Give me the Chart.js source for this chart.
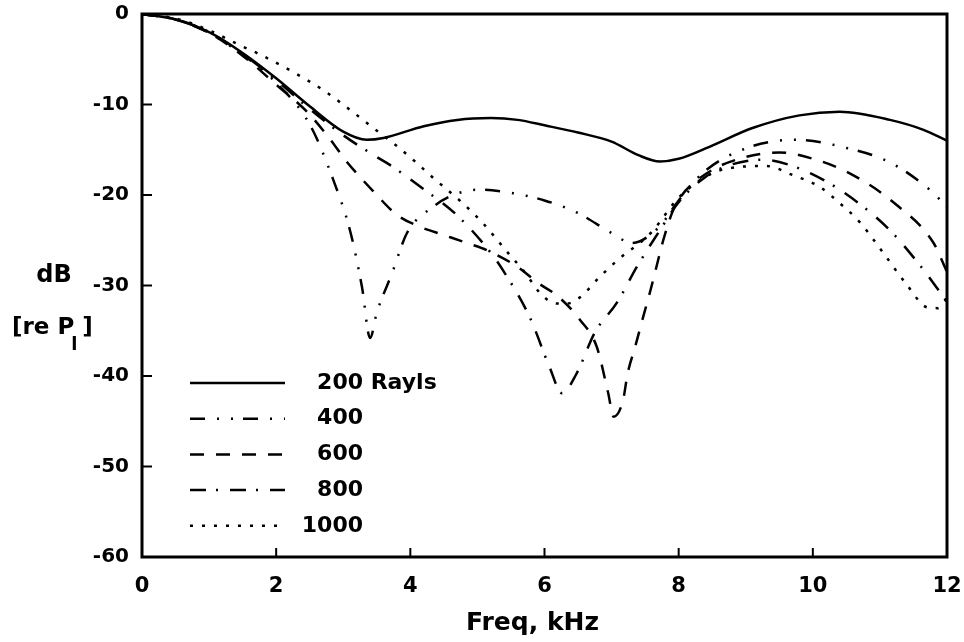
<!DOCTYPE html>
<html><head><meta charset="utf-8">
<script src="https://cdn.jsdelivr.net/npm/chart.js@4/dist/chart.umd.min.js"></script>
<style>html,body{margin:0;padding:0;background:#fff}#wrap{width:964px;height:642px}</style>
</head><body><div id="wrap"><canvas id="c" width="964" height="642"></canvas></div>
<script>
// ---- data ----
const xTicks = [0, 2, 4, 6, 8, 10, 12];
const yTicks = [0, -10, -20, -30, -40, -50, -60];
const legendNumbers = ['200', '400', '600', '800', '1000'];
const legendUnit = 'Rayls';
const xTitle = 'Freq, kHz';
const yTitle1 = 'dB';
const yTitle2 = '[re P';
const yTitleSub = 'l';

const f200 = [0,0.5,1,1.5,2,2.5,3,3.35,3.6,4.2,4.7,5.2,5.6,6.0,6.5,7.0,7.4,7.72,8.0,8.45,9.1,9.8,10.4,11.15,11.65,12];
const db200 = [0,-0.6,-2.0,-4.3,-7.1,-10.2,-13.0,-13.9,-13.7,-12.4,-11.7,-11.5,-11.7,-12.3,-13.1,-14.1,-15.6,-16.3,-16.0,-14.7,-12.6,-11.2,-10.8,-11.7,-12.8,-14.0];

const f400 = [0,0.5,1,1.5,2,2.5,2.85,3.1,3.28,3.4,3.5,3.73,3.95,4.34,4.64,5.04,5.53,6.0,6.5,7.0,7.3,7.7,8.0,8.4,9.1,9.76,10.5,11.15,11.74,12];
const db400 = [0,-0.6,-2.1,-4.5,-7.6,-12.2,-18.3,-23.9,-30.2,-35.8,-33.0,-28.6,-24.2,-21.3,-20.0,-19.4,-19.8,-20.6,-22.0,-24.2,-25.3,-23.6,-20.6,-17.3,-14.6,-13.9,-14.8,-16.4,-19.4,-21.3];

const f600 = [0,0.5,1,1.5,2,2.46,2.8,3.05,3.45,3.8,4.14,4.49,4.84,5.14,5.59,5.9,6.2,6.53,6.78,6.95,7.03,7.17,7.24,7.35,7.47,7.57,7.67,7.77,7.9,8.0,8.42,9.0,9.5,10.0,10.55,11.25,11.8,12];
const db600 = [0,-0.6,-2.1,-4.6,-7.8,-10.8,-13.8,-16.3,-19.6,-22.2,-23.5,-24.4,-25.3,-26.1,-27.9,-29.7,-31.2,-33.8,-36.8,-41.9,-44.5,-42.7,-39.7,-36.8,-33.5,-30.8,-27.9,-25.0,-22.0,-20.5,-17.6,-15.8,-15.3,-16.0,-17.6,-21.1,-25.3,-28.5];

const f800 = [0,0.5,1,1.5,2,2.5,3,3.5,3.7,4.19,4.69,5.19,5.38,5.78,6.08,6.26,6.48,6.75,7.08,7.38,7.72,8.0,8.4,8.8,9.25,9.7,10.2,10.7,11.15,11.6,12];
const db800 = [0,-0.6,-2.0,-4.4,-7.3,-10.5,-13.4,-15.8,-16.7,-19.3,-22.2,-26.3,-28.3,-33.5,-39.1,-41.9,-39.7,-35.2,-31.9,-27.9,-23.9,-20.8,-18.0,-16.6,-16.1,-16.8,-18.5,-21.0,-23.9,-27.8,-31.8];

const f1000 = [0,0.5,1,1.5,1.71,2.25,2.7,3.05,3.45,3.75,4.04,4.34,4.78,5.08,5.48,5.68,5.98,6.2,6.33,6.53,6.83,7.12,7.47,7.62,8.0,8.5,8.9,9.3,9.7,10.1,10.4,10.7,11.04,11.4,11.7,11.86,12];
const db1000 = [0,-0.5,-1.8,-3.6,-4.3,-6.4,-8.4,-10.3,-12.6,-14.3,-16.1,-18.1,-20.9,-23.1,-26.6,-28.3,-31.2,-32.0,-32.0,-31.3,-29.0,-27.0,-25.0,-23.9,-20.3,-17.6,-16.9,-16.8,-17.8,-19.1,-20.9,-23.0,-26.3,-29.9,-32.4,-32.5,-31.5];

// ---- build ----
const pts = (fs, ds) => fs.map((f, i) => ({ x: f, y: ds[i] }));
const dashes = [[], [15, 12, 2, 12, 2, 10], [14, 12], [16, 10, 2, 12], [3, 9]];
const series = [[f200, db200], [f400, db400], [f600, db600], [f800, db800], [f1000, db1000]];
const FONT = 'DejaVu Sans';

const datasets = series.map((s, i) => ({
  label: legendNumbers[i],
  data: pts(s[0], s[1]),
  borderColor: '#000',
  borderWidth: 2.5,
  borderDash: dashes[i],
  pointRadius: 0,
  fill: false,
  cubicInterpolationMode: 'monotone'
}));

const decor = {
  id: 'decor',
  afterDraw(chart) {
    const ctx = chart.ctx;
    const a = chart.chartArea;
    const xs = chart.scales.x, ys = chart.scales.y;
    ctx.save();
    ctx.strokeStyle = '#000';
    ctx.lineWidth = 3;
    ctx.setLineDash([]);
    ctx.strokeRect(a.left, a.top, a.right - a.left, a.bottom - a.top);
    ctx.lineWidth = 2;
    xTicks.forEach(v => {
      if (v === xTicks[0] || v === xTicks[xTicks.length - 1]) return;
      const p = xs.getPixelForValue(v);
      ctx.beginPath(); ctx.moveTo(p, a.bottom); ctx.lineTo(p, a.bottom - 9); ctx.stroke();
    });
    yTicks.forEach(v => {
      if (v === yTicks[0] || v === yTicks[yTicks.length - 1]) return;
      const p = ys.getPixelForValue(v);
      ctx.beginPath(); ctx.moveTo(a.left, p); ctx.lineTo(a.left + 10, p); ctx.stroke();
    });
    // legend
    const lx0 = a.left + 48, lx1 = a.left + 143, tx = a.left + 221;
    const ly0 = a.top + 369, step = 35.7;
    chart.data.datasets.forEach((d, i) => {
      const y = ly0 + i * step;
      ctx.lineWidth = 2.5;
      ctx.setLineDash(d.borderDash || []);
      ctx.beginPath(); ctx.moveTo(lx0, y); ctx.lineTo(lx1, y); ctx.stroke();
      ctx.setLineDash([]);
      ctx.fillStyle = '#000';
      ctx.font = 'bold 22px "' + FONT + '"';
      ctx.textBaseline = 'middle';
      ctx.textAlign = 'right';
      ctx.fillText(d.label, tx, y);
      if (i === 0) { ctx.textAlign = 'left'; ctx.fillText(' ' + legendUnit, tx, y); }
    });
    // axis titles
    ctx.textBaseline = 'alphabetic';
    ctx.textAlign = 'center';
    ctx.font = 'bold 25px "' + FONT + '"';
    ctx.fillText(xTitle, (a.left + a.right) / 2 - 12, 630);
    ctx.font = 'bold 24px "' + FONT + '"';
    ctx.fillText(yTitle1, 54, 282);
    ctx.textAlign = 'left';
    ctx.font = 'bold 23px "' + FONT + '"';
    ctx.fillText(yTitle2, 12, 334);
    const w = ctx.measureText(yTitle2).width;
    ctx.font = 'bold 18px "' + FONT + '"';
    ctx.fillText(yTitleSub, 12 + w - 3, 350);
    ctx.font = 'bold 23px "' + FONT + '"';
    ctx.fillText(']', 12 + w + 8, 334);
    ctx.restore();
  }
};

new Chart(document.getElementById('c'), {
  type: 'line',
  data: { datasets },
  options: {
    responsive: false,
    animation: false,
    devicePixelRatio: 1,
    layout: { padding: { top: 14, right: 17, left: 0, bottom: 0 } },
    plugins: { legend: { display: false }, tooltip: { enabled: false }, title: { display: false } },
    scales: {
      x: {
        type: 'linear', min: 0, max: 12,
        afterFit: s => { s.height = 85; s.paddingLeft = 0; s.paddingRight = 0; },
        afterBuildTicks: s => { s.ticks = xTicks.map(v => ({ value: v })); },
        grid: { display: false, drawTicks: false },
        border: { display: false },
        ticks: { color: '#000', padding: 17, font: { family: FONT, weight: 'bold', size: 21 }, maxRotation: 0, autoSkip: false }
      },
      y: {
        type: 'linear', min: -60, max: 0,
        afterFit: s => { s.width = 142; s.paddingTop = 0; s.paddingBottom = 0; },
        afterBuildTicks: s => { s.ticks = yTicks.map(v => ({ value: v })); },
        grid: { display: false, drawTicks: false },
        border: { display: false },
        ticks: { color: '#000', padding: 13, font: { family: FONT, weight: 'bold', size: 20 }, autoSkip: false }
      }
    }
  },
  plugins: [decor]
});
</script></body></html>
